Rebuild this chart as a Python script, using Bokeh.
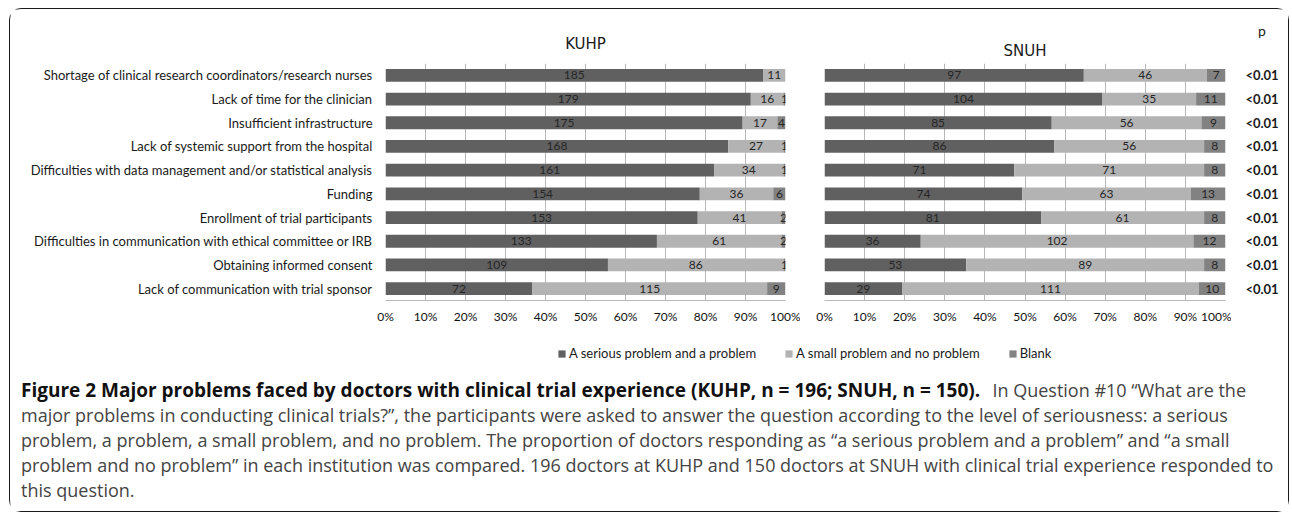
from bokeh.plotting import figure
from bokeh.layouts import row, column
from bokeh.models import ColumnDataSource, FactorRange, Range1d, FixedTicker, Legend, LegendItem
from bokeh.core.properties import value
from bokeh.embed import file_html
from bokeh.resources import INLINE

categories = [
    "Shortage of clinical research coordinators/research nurses",
    "Lack of time for the clinician",
    "Insufficient infrastructure",
    "Lack of systemic support from the hospital",
    "Difficulties with data management and/or statistical analysis",
    "Funding",
    "Enrollment of trial participants",
    "Difficulties in communication with ethical committee or IRB",
    "Obtaining informed consent",
    "Lack of communication with trial sponsor",
]
series = ["A serious problem and a problem", "A small problem and no problem", "Blank"]
kuhp_serious = [185, 179, 175, 168, 161, 154, 153, 133, 109, 72]
kuhp_small = [11, 16, 17, 27, 34, 36, 41, 61, 86, 115]
kuhp_blank = [0, 1, 4, 1, 1, 6, 2, 2, 1, 9]
snuh_serious = [97, 104, 85, 86, 71, 74, 81, 36, 53, 29]
snuh_small = [46, 35, 56, 56, 71, 63, 61, 102, 89, 111]
snuh_blank = [7, 11, 9, 8, 8, 13, 8, 12, 8, 10]
p_header = "p"
p_values = ["<0.01", "<0.01", "<0.01", "<0.01", "<0.01", "<0.01", "<0.01", "<0.01", "<0.01", "<0.01"]
x_ticks = [0, 0.1, 0.2, 0.3, 0.4, 0.5, 0.6, 0.7, 0.8, 0.9, 1.0]
x_tick_labels = ["0%", "10%", "20%", "30%", "40%", "50%", "60%", "70%", "80%", "90%", "100%"]

colors = ["#606060", "#b3b3b3", "#828282"]
grid_color = "#b8b8b8"
LABEL_FONT = "Lato"
CAP_FONT = "Open Sans"

yr = FactorRange(factors=list(reversed(categories)))


def panel(name, counts_list, width, bl, br, title_standoff, show_labels):
    totals = [sum(v) for v in zip(*counts_list)]
    p = figure(width=width, height=331, y_range=yr, x_range=Range1d(0, 1),
               output_backend="svg", toolbar_location=None,
               min_border_left=bl, min_border_right=br, min_border_top=54, min_border_bottom=40)
    p.outline_line_color = None
    p.background_fill_color = "white"
    p.border_fill_color = "white"
    lefts = [0.0] * len(categories)
    lab_x, lab_y, lab_t = [], [], []
    for counts, col in zip(counts_list, colors):
        fr = [c / t for c, t in zip(counts, totals)]
        rights = [l + f for l, f in zip(lefts, fr)]
        src = ColumnDataSource(dict(cat=categories, left=lefts, right=rights))
        p.hbar(y="cat", left="left", right="right", height=0.54, source=src,
               fill_color=col, line_color=None)
        for c, l, r, cat in zip(counts, lefts, rights, categories):
            if c > 0:
                lab_x.append((l + r) / 2)
                lab_y.append(cat)
                lab_t.append(str(c))
        lefts = rights
    p.text(x=lab_x, y=lab_y, text=lab_t, text_align="center", text_baseline="middle",
           text_font=value(LABEL_FONT), text_font_size="12px", text_color="#262626")
    # axes
    p.xaxis.ticker = FixedTicker(ticks=x_ticks)
    p.xaxis.major_label_overrides = {t: l for t, l in zip(x_ticks, x_tick_labels)}
    p.xaxis.axis_line_color = grid_color
    p.xaxis.major_tick_line_color = None
    p.xaxis.major_tick_out = 0
    p.xaxis.major_tick_in = 0
    p.xaxis.minor_tick_line_color = None
    p.xaxis.major_label_standoff = 8
    p.xaxis.major_label_text_font = LABEL_FONT
    p.xaxis.major_label_text_font_size = "12px"
    p.xaxis.major_label_text_color = "#111111"
    p.xgrid.ticker = FixedTicker(ticks=x_ticks)
    p.xgrid.grid_line_color = grid_color
    p.ygrid.grid_line_color = None
    if show_labels:
        p.yaxis.axis_line_color = None
        p.yaxis.major_tick_line_color = None
        p.yaxis.major_tick_out = 0
        p.yaxis.major_tick_in = 0
        p.yaxis.minor_tick_line_color = None
        p.yaxis.major_label_standoff = 13
        p.yaxis.major_label_text_font = LABEL_FONT
        p.yaxis.major_label_text_font_size = "13px"
        p.yaxis.major_label_text_color = "#1a1a1a"
    else:
        p.yaxis.visible = False
    p.title.text = name
    p.title.align = "center"
    p.title.text_font = "DejaVu Sans"
    p.title.text_font_size = "15px"
    p.title.text_font_style = "normal"
    p.title.text_color = "#1a1a1a"
    p.title.standoff = title_standoff
    return p


k = panel("KUHP", [kuhp_serious, kuhp_small, kuhp_blank], 790, 375, 15, 21, True)
s = panel("SNUH", [snuh_serious, snuh_small, snuh_blank], 431, 24, 6, 7, False)

# p-value column: header cell (page y coordinates) + values aligned with the bar rows
ph = figure(width=57, height=54, x_range=Range1d(0, 1), y_range=Range1d(63.5, 9.5),
            output_backend="svg", toolbar_location=None, x_axis_type=None, y_axis_type=None,
            min_border_left=4, min_border_right=0, min_border_top=0, min_border_bottom=0)
ph.outline_line_color = None
ph.text(x=[0.5], y=[30], text=[p_header], text_align="center", text_baseline="middle",
        text_font=value(LABEL_FONT), text_font_size="14px", text_color="#1a1a1a")

pf = figure(width=57, height=277, y_range=yr, x_range=Range1d(0, 1), output_backend="svg",
            toolbar_location=None, x_axis_type=None, y_axis_type=None,
            min_border_left=4, min_border_right=0, min_border_top=0, min_border_bottom=40)
pf.outline_line_color = None
pf.text(x=[0.5] * len(categories), y=categories, text=p_values, text_align="center",
        text_baseline="middle", text_font=value(LABEL_FONT), text_font_size="13px",
        text_font_style="bold", text_color="#1a1a1a")

# caption / legend panel (page coordinates)
cap = figure(width=1278, height=171, x_range=Range1d(10.5, 1288.5), y_range=Range1d(511.5, 340.5),
             output_backend="svg", toolbar_location=None, x_axis_type=None, y_axis_type=None,
             min_border=0)
cap.outline_line_color = None
items = []
for name, col in zip(series, colors):
    r = cap.vbar(x=[float("nan")], top=[float("nan")], width=1, fill_color=col, line_color=None)
    items.append(LegendItem(label=name, renderers=[r]))
leg = Legend(items=items, orientation="horizontal", location=(547, 150),
             glyph_width=9, glyph_height=9, label_standoff=3, spacing=28, padding=0, margin=0,
             border_line_color=None, background_fill_alpha=0, label_height=9,
             label_text_font=LABEL_FONT, label_text_font_size="13px", label_text_color="#1a1a1a")
cap.add_layout(leg, "center")

bold_part = "Figure 2 Major problems faced by doctors with clinical trial experience (KUHP, n = 196; SNUH, n = 150)."
line1_rest = "In Question #10 \u201cWhat are the"
caption_lines = [
    "major problems in conducting clinical trials?\u201d, the participants were asked to answer the question according to the level of seriousness: a serious",
    "problem, a problem, a small problem, and no problem. The proportion of doctors responding as \u201ca serious problem and a problem\u201d and \u201ca small",
    "problem and no problem\u201d in each institution was compared. 196 doctors at KUHP and 150 doctors at SNUH with clinical trial experience responded to",
    "this question.",
]
cap.text(x=[21], y=[390], text=[bold_part], text_align="left", text_baseline="middle",
         text_font=value(CAP_FONT), text_font_size="19px", text_font_style="bold", text_color="#111111")
cap.text(x=[1246], y=[390], text=[line1_rest], text_align="right", text_baseline="middle",
         text_font=value(CAP_FONT), text_font_size="18px", text_color="#444444")
cap.text(x=[21, 21, 21, 21], y=[415, 440, 465, 490], text=caption_lines, text_align="left",
         text_baseline="middle", text_font=value(CAP_FONT), text_font_size="18px", text_color="#444444")

layout = column(row(k, s, column(ph, pf)), cap,
                styles={"border": "1.5px solid #1a1a1a", "border-radius": "12px", "background": "white",
                        "margin-left": "9px", "margin-top": "8px"})

open("out.html", "w").write(file_html(layout, INLINE))
